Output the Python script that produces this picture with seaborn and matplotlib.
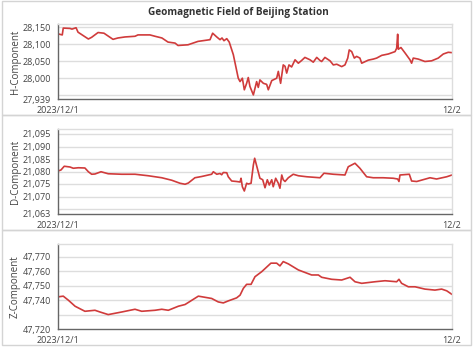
import numpy                as np
import pandas               as pd
import seaborn              as sns
import matplotlib.pyplot    as plt

from matplotlib.patches import Rectangle

# ======================================================================== DATA ========================================================================

# H component (hours since 2023/12/1 00:00, nT)
H_HOURS  = [0.00, 0.26, 0.32, 0.73, 0.85, 1.10, 1.22, 1.85, 2.05, 2.44, 2.80, 3.35, 3.65, 4.08, 4.69, 4.87,
            5.60, 5.91, 6.33, 6.70, 7.13, 7.31, 7.92, 8.53, 9.26, 9.42, 9.67, 9.87, 9.99, 10.11, 10.28, 10.43,
            10.68, 10.98, 11.09, 11.23, 11.35, 11.49, 11.59, 11.69, 11.90, 12.10, 12.20, 12.30, 12.51, 12.71,
            12.81, 13.02, 13.32, 13.42, 13.56, 13.72, 13.83, 13.93, 14.07, 14.23, 14.44, 14.64, 14.84, 15.04,
            15.35, 15.55, 15.76, 15.96, 16.06, 16.26, 16.57, 16.77, 16.98, 17.28, 17.48, 17.65, 17.74, 17.89,
            18.05, 18.19, 18.39, 18.50, 18.90, 19.20, 19.41, 19.72, 20.12, 20.53, 20.63, 20.69, 20.73, 20.89,
            21.14, 21.44, 21.54, 21.64, 21.95, 22.35, 22.76, 23.16, 23.47, 23.77, 24.00]
H_VALUES = [28130, 28127, 28147, 28146, 28144, 28148, 28135, 28115, 28120, 28134, 28132, 28114, 28118, 28121, 28123, 28127,
            28127, 28123, 28118, 28106, 28103, 28096, 28098, 28108, 28113, 28132, 28121, 28113, 28118, 28110, 28116, 28106,
            28069, 28000, 27990, 28000, 27966, 27985, 28002, 27976, 27951, 27990, 27973, 27995, 27985, 27982,
            27966, 27993, 28000, 28020, 27985, 28039, 28035, 28015, 28039, 28033, 28054, 28044, 28052, 28061,
            28054, 28047, 28061, 28052, 28049, 28061, 28051, 28039, 28041, 28034, 28039, 28059, 28083, 28078,
            28059, 28064, 28059, 28044, 28053, 28056, 28059, 28067, 28071, 28078, 28088, 28129, 28085, 28090,
            28074, 28054, 28044, 28059, 28056, 28049, 28051, 28059, 28071, 28076, 28075]

# D component
D_HOURS  = [0.00, 0.18, 0.38, 0.73, 0.93, 1.24, 1.64, 1.85, 2.05, 2.25, 2.62, 3.06, 3.88, 4.69, 5.50, 6.32,
            6.93, 7.43, 7.74, 7.94, 8.34, 8.75, 9.36, 9.46, 9.67, 9.87, 9.97, 10.07, 10.28, 10.37, 10.58, 10.88,
            11.09, 11.15, 11.23, 11.35, 11.49, 11.59, 11.76, 11.90, 11.98, 12.14, 12.30, 12.47, 12.61, 12.75,
            12.87, 13.02, 13.11, 13.26, 13.42, 13.52, 13.63, 13.72, 13.83, 14.03, 14.33, 14.64, 15.15, 15.96,
            16.20, 16.77, 17.48, 17.68, 18.09, 18.39, 18.80, 19.20, 19.81, 20.42, 20.69, 20.77, 20.83, 21.40,
            21.54, 21.85, 22.66, 23.06, 23.68, 24.00]
D_VALUES = [21080.2, 21080.6, 21082.1, 21081.8, 21081.3, 21081.5, 21081.4, 21079.9, 21078.9, 21079.0, 21079.9, 21079.1,
            21078.9, 21078.9, 21078.3, 21077.5, 21076.5, 21075.3, 21074.9, 21075.4, 21077.5, 21078.0, 21078.9, 21079.9,
            21078.9, 21079.2, 21078.7, 21079.6, 21079.5, 21077.9, 21076.2, 21076.0, 21075.8, 21077.3, 21073.9, 21072.2,
            21075.3, 21075.0, 21075.3, 21082.6, 21085.3, 21081.3, 21077.3, 21076.7, 21073.5, 21076.7, 21074.6, 21076.7,
            21073.9, 21077.3, 21075.3, 21073.3, 21078.6, 21076.7, 21076.0, 21077.5, 21078.9, 21078.3, 21077.9, 21077.5,
            21079.3, 21078.9, 21078.6, 21081.9, 21083.3, 21081.3, 21077.9, 21077.5, 21077.5, 21077.3, 21077.0, 21076.0,
            21078.6, 21078.9, 21076.2, 21076.0, 21077.5, 21077.0, 21077.9, 21078.6]

# Z component
Z_HOURS  = [0.00, 0.32, 0.63, 1.04, 1.64, 2.25, 2.56, 3.06, 3.88, 4.69, 5.10, 5.91, 6.32, 6.72, 7.33, 7.74,
            8.55, 9.36, 9.76, 10.07, 10.37, 10.88, 11.09, 11.29, 11.49, 11.76, 12.00, 12.41, 12.97, 13.32, 13.52,
            13.72, 14.03, 14.64, 15.45, 15.86, 16.06, 16.67, 17.28, 17.79, 18.09, 18.50, 19.31, 19.92, 20.63,
            20.77, 20.93, 21.34, 21.75, 22.35, 22.96, 23.37, 23.68, 24.00]
Z_VALUES = [47742.3, 47742.8, 47740.0, 47735.8, 47732.3, 47733.0, 47731.8, 47730.0, 47731.8, 47733.7, 47732.3, 47733.0,
            47733.7, 47733.0, 47735.8, 47737.0, 47742.8, 47741.2, 47738.8, 47738.1, 47739.5, 47741.6, 47743.5, 47748.2,
            47751.0, 47751.0, 47756.3, 47759.8, 47765.7, 47765.7, 47763.8, 47766.8, 47765.2, 47761.0, 47757.5, 47757.5,
            47755.9, 47754.5, 47754.0, 47755.9, 47752.8, 47751.7, 47752.8, 47753.5, 47752.8, 47754.5, 47751.7, 47749.3,
            47749.3, 47747.7, 47747.0, 47747.7, 47746.5, 47744.0]

X_TICKS       = [0, 24]
X_TICK_LABELS = ["2023/12/1", "12/2"]

TITLE = "Geomagnetic Field of Beijing Station"

# ======================================================================== STYLE ========================================================================

LINE_COLOR = "#d03b3b"
GRID_COLOR = "#dddddd"
AXIS_COLOR = "#666666"
TEXT_COLOR = "#444444"

sns.set_theme(style="white")
plt.rcParams["font.family"] = ["Open Sans", "DejaVu Sans"]

# name, hours, values, gridlines, labelled ticks, limits, axes rect
panels = [
    ("H-Component", H_HOURS, H_VALUES, [27950, 28000, 28050, 28100, 28150],
     [27939, 28000, 28050, 28100, 28150], (27939, 28159), [58, 24, 452, 99]),
    ("D-Component", D_HOURS, D_VALUES, [21065, 21070, 21075, 21080, 21085, 21090, 21095],
     [21063, 21070, 21075, 21080, 21085, 21090, 21095], (21063, 21097), [58, 129, 452, 214]),
    ("Z-Component", Z_HOURS, Z_VALUES, [47730, 47740, 47750, 47760, 47770],
     [47720, 47740, 47750, 47760, 47770], (47720, 47779), [58, 244, 452, 329]),
]

W, H = 473, 351
fig = plt.figure(figsize=(W / 100, H / 100), dpi=100)

# panel frames
for top, bottom in [(1, 115), (115, 230), (230, 345)]:
    fig.add_artist(Rectangle((2 / W, 1 - bottom / H), 469 / W, (bottom - top) / H,
                             transform=fig.transFigure, fill=False, edgecolor="#d4d4d4", linewidth=1))

for name, hours, values, grid, labelled, limits, (x0, y0, x1, y1) in panels:
    ax = fig.add_axes([x0 / W, 1 - y1 / H, (x1 - x0) / W, (y1 - y0) / H])
    frame = pd.DataFrame({"hour": hours, "value": values})
    sns.lineplot(data=frame, x="hour", y="value", ax=ax, color=LINE_COLOR, linewidth=1.2)

    for g in grid:
        ax.axhline(g, color=GRID_COLOR, linewidth=1, zorder=0)

    ax.set_xlim(0, 24)
    ax.set_ylim(*limits)
    ax.set_xticks(X_TICKS)
    ax.set_xticklabels(X_TICK_LABELS)
    ax.set_yticks(labelled)
    ax.set_yticklabels([f"{v:,}" for v in labelled])
    ax.set_xlabel("")
    ax.set_ylabel(name, fontsize=7, color=TEXT_COLOR)
    ax.yaxis.set_label_coords((21 - x0) / (x1 - x0), 0.5)

    ax.tick_params(axis="both", labelsize=6.5, colors=AXIS_COLOR, labelcolor=TEXT_COLOR, length=3, width=0.8, pad=2)

    for side in ["top", "right"]:
        ax.spines[side].set_color(GRID_COLOR)
        ax.spines[side].set_linewidth(1)
    for side in ["left", "bottom"]:
        ax.spines[side].set_color(AXIS_COLOR)
        ax.spines[side].set_linewidth(1)

fig.text(238 / W, 1 - 12 / H, TITLE, ha="center", va="center", fontsize=7.2, fontweight="bold", color="#333333")

plt.savefig("out.png", dpi=100)
